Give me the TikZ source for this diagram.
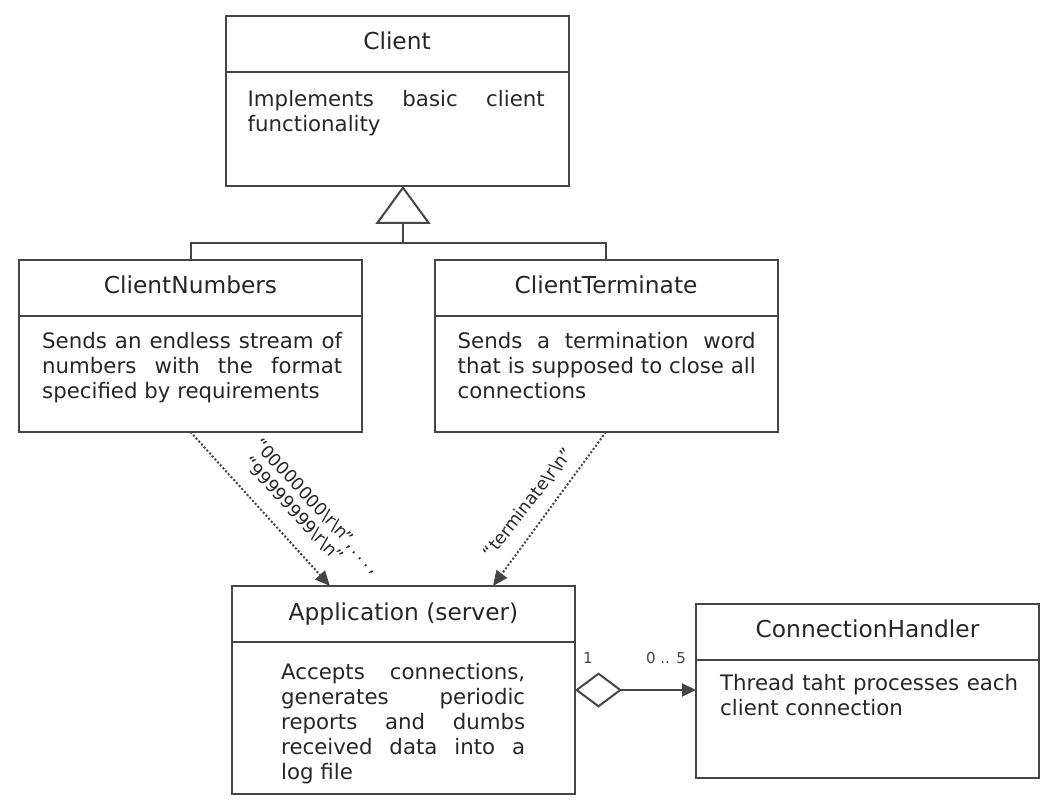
\documentclass[tikz,border=0pt]{standalone}
\usepackage{fontspec}
\setmainfont{DejaVu Sans}
\usetikzlibrary{positioning,arrows.meta}
\definecolor{umlline}{HTML}{454545}
\definecolor{umltext}{HTML}{262626}
\hyphenpenalty=10000
\exhyphenpenalty=10000
\tolerance=10000
\begin{document}
\begin{tikzpicture}
	[x=1pt,y=-1pt,
	every node/.style={text=umltext},
	classtitle/.style={draw=umlline,line width=2pt,minimum width=343pt,minimum height=56pt,inner sep=0pt,outer sep=0pt,text height=16pt,text depth=4pt,font=\fontsize{23.3}{27}\selectfont},
	classbody/.style={draw=umlline,line width=2pt,minimum width=343pt,inner sep=0pt,outer sep=0pt,below=0pt of #1},
	desc/.style={text width=#1,align=justify,inner sep=0pt,font=\fontsize{21.3}{25}\selectfont},
	dep/.style={umlline,line width=2pt,dash pattern=on 2pt off 2pt,-{Triangle[length=15pt,width=13pt]}},
	lbl/.style={inner sep=0pt,font=\fontsize{17.5}{20}\selectfont},
	mult/.style={inner sep=0pt,text=umlline,font=\fontsize{15}{17}\selectfont}]
	\useasboundingbox (0,0) rectangle (1058,805);
	\node[classtitle] (clientTitle) at (397,44) {Client};
	\node[classbody=clientTitle,minimum height=114pt] (clientBody) {};
	\node[desc=297pt,below right=18pt and 22pt of clientBody.north west] (clientDesc)
		{Implements basic client\linebreak functionality};
	\node[classtitle] (cnTitle) at (190.5,288) {ClientNumbers};
	\node[classbody=cnTitle,minimum height=116pt] (cnBody) {};
	\node[desc=300pt,below right=16pt and 23pt of cnBody.north west] (cnDesc)
		{Sends an endless stream of\linebreak numbers with the format\linebreak specified by requirements};
	\node[classtitle] (ctTitle) at (606,288) {ClientTerminate};
	\node[classbody=ctTitle,minimum height=116pt] (ctBody) {};
	\node[desc=298pt,below right=16pt and 23pt of ctBody.north west] (ctDesc)
		{Sends a termination word\linebreak that is supposed to close all\linebreak connections};
	\node[classtitle] (appTitle) at (403.5,614) {Application (server)};
	\node[classbody=appTitle,minimum height=152pt] (appBody) {};
	\node[desc=244pt,below right=21pt and 49pt of appBody.north west] (appDesc)
		{Accepts connections,\linebreak generates periodic\linebreak reports and dumbs\linebreak received data into a\linebreak log file};
	\node[classtitle] (chTitle) at (867.5,631.5) {ConnectionHandler};
	\node[classbody=chTitle,minimum height=118pt] (chBody) {};
	\node[desc=298pt,below right=15pt and 24pt of chBody.north west] (chDesc)
		{Thread taht processes each\linebreak client connection};
	\coordinate (inhJoint) at (403,243);
	\draw[umlline,line width=2pt] (cnTitle.north) |- (inhJoint) -| (ctTitle.north);
	\draw[umlline,line width=2pt,-{Triangle[open,length=38pt,width=55pt]}] (inhJoint) -- (inhJoint |- clientBody.south);
	\draw[dep] (cnBody.south) -- ([xshift=-73.5pt]appTitle.north);
	\draw[dep] (ctBody.south) -- ([xshift=89.5pt]appTitle.north);
	\node[lbl,rotate=-47,align=left] (numLabel) at (310,513)
		{“00000000\textbackslash r\textbackslash n”,\,.\,.\,.\,,\\\hspace*{6pt}“99999999\textbackslash r\textbackslash n”};
	\node[lbl,rotate=52] (termLabel) at (528,503) {“terminate\textbackslash r\textbackslash n”};
	\coordinate (aggr) at (575,690);
	\draw[umlline,line width=2pt,{Diamond[open,length=47pt,width=35pt]}-{Triangle[length=14pt,width=13pt]}] (aggr) -- (aggr -| chBody.west);
	\node[mult] (aggrOne) at (588,658) {1};
	\node[mult] (aggrMany) at (666,658) {0 .. 5};
\end{tikzpicture}
\end{document}
